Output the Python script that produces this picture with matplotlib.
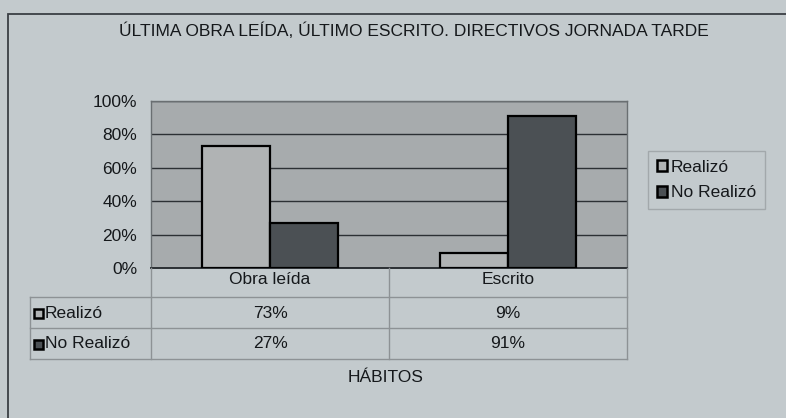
import numpy as np
import matplotlib.pyplot as plt
from matplotlib.patches import Rectangle
from matplotlib.lines import Line2D

plt.rcParams['font.family'] = ['Liberation Sans', 'DejaVu Sans']

categories = ['Obra leída', 'Escrito']
series = ['Realizó', 'No Realizó']
realizo = [73, 9]
no_realizo = [27, 91]
yticks = [0, 20, 40, 60, 80, 100]

bg = '#c3cacd'
plot_bg = '#a7abad'
c_light = '#b0b3b4'
c_dark = '#4b5054'
ink = '#15181b'

W, H = 786, 418
fig = plt.figure(figsize=(W / 100, H / 100), dpi=100, facecolor=bg)


def fx(px):
    return px / W


def fy(py):
    return 1 - py / H


# outer frame
fig.add_artist(Rectangle((fx(8), fy(430)), 1.2, fy(14) - fy(430), transform=fig.transFigure,
                         fill=False, edgecolor='#3a3f44', lw=1.3))

left, right, top, bottom = 151, 627, 101, 268
ax = fig.add_axes([fx(left), fy(bottom), fx(right - left), fy(top) - fy(bottom)])
ax.set_facecolor(plot_bg)

x = np.arange(len(categories))
w = 0.285
ax.bar(x - w / 2, realizo, w, color=c_light, edgecolor='black', lw=1.6, zorder=3)
ax.bar(x + w / 2, no_realizo, w, color=c_dark, edgecolor='black', lw=1.6, zorder=3)

ax.set_xlim(-0.5, len(categories) - 0.5)
ax.set_ylim(0, 100)
ax.set_yticks(yticks)
ax.set_yticklabels([f'{v}%' for v in yticks], fontsize=12.5, color=ink)
ax.yaxis.grid(True, color='#2c3034', lw=1.0, zorder=1)
ax.tick_params(axis='y', length=0, pad=10)
ax.set_xticks(x)
ax.set_xticklabels(categories, fontsize=12.5, color=ink)
ax.tick_params(axis='x', length=0, pad=3)
for s in ax.spines.values():
    s.set_color('#6a6f72')
    s.set_linewidth(1.0)
ax.spines['bottom'].set_color('#2c3034')
ax.spines['bottom'].set_linewidth(1.4)

# data table below the plot
tcol = '#8d9295'
row_y = [297, 328, 359]
for py in row_y:
    fig.add_artist(Line2D([fx(30), fx(right)], [fy(py), fy(py)], color=tcol, lw=1.0))
for px in [left, (left + right) / 2, right]:
    fig.add_artist(Line2D([fx(px), fx(px)], [fy(bottom), fy(359)], color=tcol, lw=1.0))
fig.add_artist(Line2D([fx(30), fx(30)], [fy(297), fy(359)], color=tcol, lw=1.0))

trans = ax.get_xaxis_transform()
row_centers = [313, 344]
for vals, name, color, py in zip([realizo, no_realizo], series, [c_light, c_dark], row_centers):
    fig.add_artist(Rectangle((fx(34), fy(py + 5)), fx(9), fy(py - 4) - fy(py + 5), transform=fig.transFigure,
                             facecolor=color, edgecolor='black', lw=1.8))
    fig.text(fx(45), fy(py), name, fontsize=12.5, color=ink, va='center', ha='left')
    yy = (fy(py) - fy(bottom)) / (fy(top) - fy(bottom))
    for xi, v in zip(x, vals):
        ax.text(xi, yy, f'{v}%', transform=trans, ha='center', va='center',
                fontsize=12.5, color=ink, clip_on=False)

fig.text(fx(386), fy(378), 'HÁBITOS', fontsize=12.5, color=ink, ha='center', va='center')

fig.text(fx(414), fy(31), 'ÚLTIMA OBRA LEÍDA, ÚLTIMO ESCRITO. DIRECTIVOS JORNADA TARDE',
         fontsize=12.5, color=ink, ha='center', va='center')

# legend
handles = [Rectangle((0, 0), 1, 1, facecolor=c, edgecolor='black', lw=1.8) for c in [c_light, c_dark]]
leg = fig.legend(handles, series, loc='center left', bbox_to_anchor=(fx(648), fy(180)),
                 frameon=True, fancybox=False, fontsize=12.5, handlelength=0.6, handleheight=0.6,
                 handletextpad=0.2, labelspacing=0.6, borderpad=0.5, borderaxespad=0,
                 facecolor=bg, edgecolor='#9aa0a3')
for t in leg.get_texts():
    t.set_color(ink)

fig.savefig('out.png', dpi=100, facecolor=bg)
